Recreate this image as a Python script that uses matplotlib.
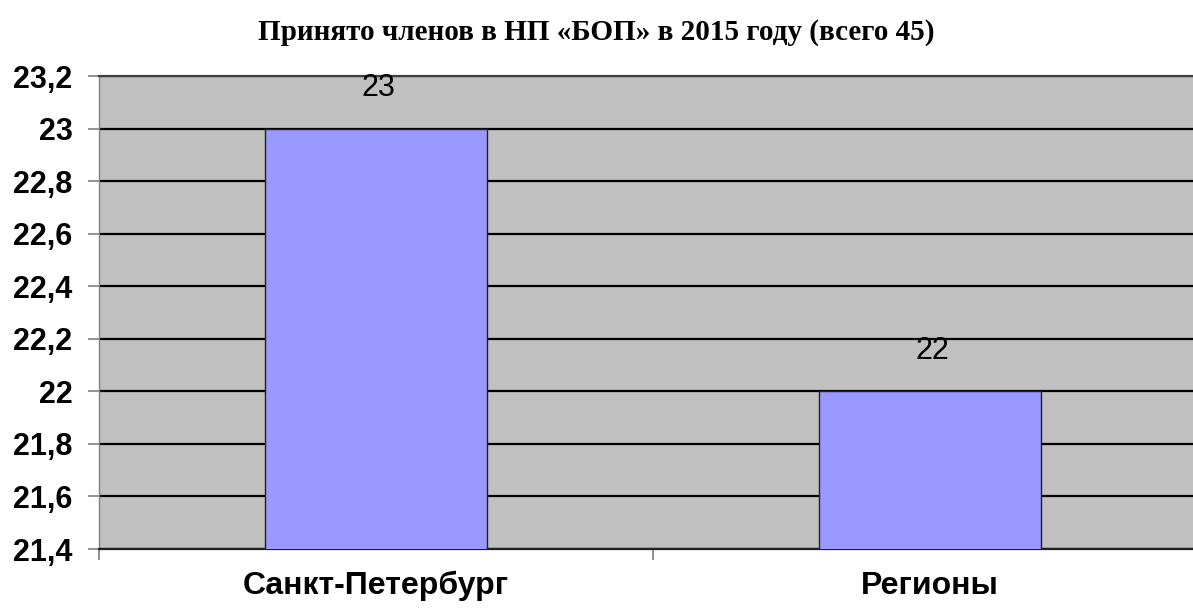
import matplotlib.pyplot as plt
from matplotlib.ticker import FuncFormatter

# -------------------------------
# Data
# -------------------------------
categories = ["Санкт-Петербург", "Регионы"]
members = [23, 22]
title = "Принято членов в НП «БОП» в 2015 году (всего 45)"
y_ticks = [21.4, 21.6, 21.8, 22.0, 22.2, 22.4, 22.6, 22.8, 23.0, 23.2]

# -------------------------------
# Figure
# -------------------------------
fig = plt.figure(figsize=(11.93, 6.12), dpi=100)
# plot area runs off the right edge as in the original screenshot
ax = fig.add_axes([99 / 1193, 63 / 612, 1108 / 1193, 473 / 612])

ax.set_facecolor("#C0C0C0")
ax.set_axisbelow(True)

x = list(range(len(categories)))
ax.bar(x, members, width=0.4, bottom=0, color="#9999FF",
       edgecolor="#202020", linewidth=1.0, zorder=3)

ax.set_xlim(-0.5, len(categories) - 0.5)
ax.set_ylim(y_ticks[0], y_ticks[-1])
ax.set_yticks(y_ticks)
ax.yaxis.set_major_formatter(
    FuncFormatter(lambda v, p: f"{v:g}".replace(".", ",")))
ax.yaxis.grid(True, color="black", linewidth=1.6)

# category boundary ticks on x, labels as minor ticks
ax.set_xticks([i - 0.5 for i in range(len(categories) + 1)])
ax.set_xticklabels([])
ax.set_xticks(x, minor=True)
ax.set_xticklabels(categories, minor=True)
ax.tick_params(axis="x", which="major", length=8, width=1.2, color="#808080")
ax.tick_params(axis="x", which="minor", length=0, pad=15.5)
ax.tick_params(axis="y", length=8, width=1.2, color="#808080", pad=11)

for lab in ax.get_yticklabels():
    lab.set_fontfamily("Liberation Sans")
    lab.set_fontweight("bold")
    lab.set_fontsize(22)
for lab in ax.get_xticklabels(minor=True):
    lab.set_fontfamily("Liberation Sans")
    lab.set_fontweight("bold")
    lab.set_fontsize(23)

ax.spines["right"].set_visible(False)
ax.spines["left"].set_color("#808080")
ax.spines["left"].set_linewidth(1.0)
ax.spines["top"].set_color("#404040")
ax.spines["top"].set_linewidth(1.6)
ax.spines["bottom"].set_color("#202020")
ax.spines["bottom"].set_linewidth(1.6)

# value labels above bars
for xi, v in zip(x, members):
    ax.annotate(str(v), (xi, v), xytext=(2, 29), textcoords="offset points",
                ha="center", va="center", fontsize=22,
                fontfamily="Liberation Sans", zorder=4)

fig.text(0.5, 1 - 33 / 612, title, ha="center", va="center",
         fontsize=21, fontweight="bold", fontfamily="Liberation Serif")

fig.savefig("out.png", dpi=100)
